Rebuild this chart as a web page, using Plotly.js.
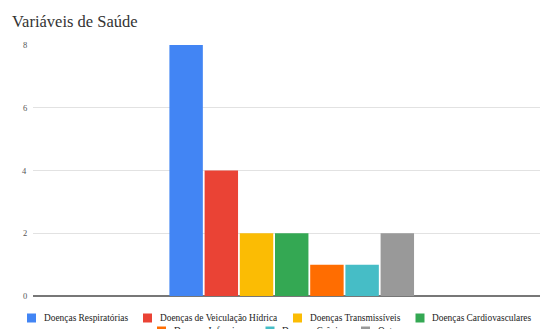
<!DOCTYPE html>
<html>
<head>
<meta charset="utf-8">
<script src="https://cdn.plot.ly/plotly-3.0.1.min.js"></script>
<style>
  html, body { margin: 0; padding: 0; background: #fff; }
  #chart { width: 540px; height: 329px; }
</style>
</head>
<body>
<div id="chart"></div>
<script>
// ---- data ----
const category = [''];
const seriesNames = [
  'Doenças Respiratórias',
  'Doenças de Veiculação Hídrica',
  'Doenças Transmissíveis',
  'Doenças Cardiovasculares',
  'Doenças Infecciosas',
  'Doenças Crônicas',
  'Outros'
];
const seriesValues = [8, 4, 2, 2, 1, 1, 2];
const seriesColors = ['#4285F4', '#EA4335', '#FBBC04', '#34A853', '#FF6D01', '#46BDC6', '#999999'];
const yTicks = [0, 2, 4, 6, 8];
const chartTitle = 'Variáveis de Saúde';

// ---- layout constants ----
const W = 540, H = 329;
const M = { l: 33, r: 0, t: 45, b: 33 };
const PW = W - M.l - M.r, PH = H - M.t - M.b;
const FONT = 'Times New Roman, Tinos, DejaVu Serif Condensed, DejaVu Serif, serif';
const px2x = px => (px - M.l) / PW;
const py2y = py => (H - M.b - py) / PH;

// legend layout (pixel positions of swatch left edge and row), Google-style
const legendSlots = [
  { sx: 27, row: 0 }, { sx: 143, row: 0 }, { sx: 293, row: 0 }, { sx: 415.5, row: 0 },
  { sx: 157, row: 1 }, { sx: 265.5, row: 1 }, { sx: 361, row: 1 }
];
const rowY = [318, 331];
const SW = 9;

const traces = seriesNames.map((name, i) => ({
  type: 'bar',
  name: name,
  x: category,
  y: [seriesValues[i]],
  marker: { color: seriesColors[i], line: { width: 0 } },
  hoverinfo: 'name+y'
}));

const shapes = [];
const annotations = [];
seriesNames.forEach((name, i) => {
  const s = legendSlots[i];
  const cy = rowY[s.row];
  shapes.push({
    type: 'rect', xref: 'paper', yref: 'paper', layer: 'above',
    x0: px2x(s.sx), x1: px2x(s.sx + SW),
    y0: py2y(cy - SW / 2), y1: py2y(cy + SW / 2),
    fillcolor: seriesColors[i], line: { width: 0 }
  });
  annotations.push({
    xref: 'paper', yref: 'paper', x: px2x(s.sx + SW + 5.5), y: py2y(cy),
    xanchor: 'left', yanchor: 'middle', showarrow: false,
    text: name, font: { family: FONT, size: 9.4, color: '#222' }
  });
});

// y tick labels placed on the y scale, just left of the gridlines
yTicks.forEach(v => {
  annotations.push({
    xref: 'paper', yref: 'y', x: px2x(29), y: v,
    xanchor: 'right', yanchor: 'middle', showarrow: false,
    text: String(v), font: { family: FONT, size: 8.5, color: '#555' }
  });
});

const layout = {
  width: W, height: H,
  margin: M,
  paper_bgcolor: '#fff', plot_bgcolor: '#fff',
  title: {
    text: chartTitle,
    xref: 'container', yref: 'container',
    x: 12 / W, xanchor: 'left',
    y: 1 - 21 / H, yanchor: 'middle',
    font: { family: FONT, size: 16.5, color: '#333' }
  },
  barmode: 'group',
  bargap: 0.514,
  bargroupgap: 0.05,
  showlegend: false,
  xaxis: {
    range: [-0.5103, 0.4897],
    showgrid: false, zeroline: false, showticklabels: false, ticks: '',
    fixedrange: true
  },
  yaxis: {
    range: [0, 8],
    tickvals: yTicks,
    showgrid: true, gridcolor: '#e2e2e2', gridwidth: 1,
    zeroline: true, zerolinecolor: '#777', zerolinewidth: 1.2,
    showline: false, ticks: '', showticklabels: false,
    fixedrange: true
  },
  shapes: shapes,
  annotations: annotations,
  font: { family: FONT }
};

Plotly.newPlot('chart', traces, layout, { displayModeBar: false, staticPlot: true });
</script>
</body>
</html>
